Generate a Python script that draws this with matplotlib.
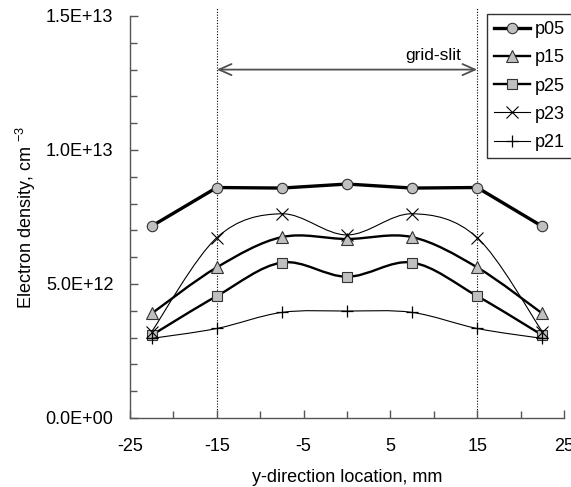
import matplotlib
matplotlib.use("Agg")
import matplotlib.pyplot as plt
from matplotlib.path import Path
from matplotlib.patches import PathPatch
from matplotlib.lines import Line2D
import numpy as np

plt.rcParams['font.family'] = ['Liberation Sans', 'DejaVu Sans']
plt.rcParams['mathtext.fontset'] = 'custom'
plt.rcParams['mathtext.rm'] = 'Liberation Sans'
plt.rcParams['mathtext.it'] = 'Liberation Sans'
plt.rcParams['axes.unicode_minus'] = False

# ---- data ----
x_pos = [-22.5, -15, -7.5, 0, 7.5, 15, 22.5]
p05 = [7.16e12, 8.60e12, 8.58e12, 8.73e12, 8.58e12, 8.60e12, 7.15e12]
p15 = [3.90e12, 5.62e12, 6.75e12, 6.68e12, 6.75e12, 5.62e12, 3.90e12]
p25 = [3.09e12, 4.55e12, 5.80e12, 5.27e12, 5.80e12, 4.55e12, 3.09e12]
p23 = [3.22e12, 6.73e12, 7.62e12, 6.83e12, 7.62e12, 6.73e12, 3.22e12]
p21 = [2.97e12, 3.34e12, 3.94e12, 3.99e12, 3.94e12, 3.34e12, 2.97e12]
series_names = ['p05', 'p15', 'p25', 'p23', 'p21']
x_ticks = [-25, -15, -5, 5, 15, 25]
y_ticks = [0, 5e12, 1e13, 1.5e13]
y_tick_labels = ['0.0E+00', '5.0E+12', '1.0E+13', '1.5E+13']
slit_edges = [-15, 15]
slit_arrow_y = 1.3e13

fig = plt.figure(figsize=(5.71, 4.87), dpi=100)
ax = fig.add_axes([130/571, 1-418/487, 434/571, 402/487])

def smooth_path(xs, ys):
    pts = list(zip(xs, ys))
    n = len(pts)
    verts = [pts[0]]
    codes = [Path.MOVETO]
    for i in range(n-1):
        p0 = pts[i-1] if i > 0 else pts[i]
        p1 = pts[i]
        p2 = pts[i+1]
        p3 = pts[i+2] if i+2 < n else pts[i+1]
        c1 = (p1[0] + (p2[0]-p0[0])/6, p1[1] + (p2[1]-p0[1])/6)
        c2 = (p2[0] - (p3[0]-p1[0])/6, p2[1] - (p3[1]-p1[1])/6)
        verts += [c1, c2, p2]
        codes += [Path.CURVE4]*3
    return Path(verts, codes)

gray = '#c0c0c0'
edge = '#333333'
styles = {
    'p05': dict(marker='o', ms=7.5, lw=2.4, smooth=False, fc=gray, mec=edge, mew=0.8, color='black'),
    'p15': dict(marker='^', ms=8.5, lw=1.7, smooth=True, fc=gray, mec=edge, mew=0.8, color='black'),
    'p25': dict(marker='s', ms=7.5, lw=1.7, smooth=True, fc=gray, mec=edge, mew=0.8, color='black'),
    'p23': dict(marker='x', ms=8, lw=0.8, smooth=True, fc='none', mec='black', mew=0.8, color='black'),
    'p21': dict(marker='+', ms=9, lw=0.8, smooth=True, fc='none', mec='black', mew=0.9, color='black'),
}
data = {'p05': p05, 'p15': p15, 'p25': p25, 'p23': p23, 'p21': p21}

# vertical dotted lines
for xe in slit_edges:
    ax.axvline(xe, ymin=0, ymax=1.02, color='black', lw=0.8, ls=(0, (1, 1.5)), clip_on=False, zorder=1)

handles = []
z = 2
for name in series_names:
    st = styles[name]
    ys = data[name]
    if st['smooth']:
        patch = PathPatch(smooth_path(x_pos, ys), facecolor='none', edgecolor=st['color'],
                          lw=st['lw'], zorder=z, capstyle='round', joinstyle='round')
        ax.add_patch(patch)
    else:
        ax.plot(x_pos, ys, color=st['color'], lw=st['lw'], zorder=z, solid_joinstyle='round')
    ax.plot(x_pos, ys, linestyle='none', marker=st['marker'], ms=st['ms'],
            mfc=st['fc'], mec=st['mec'], mew=st['mew'], zorder=z+0.5)
    z += 1
    handles.append(Line2D([], [], color=st['color'], lw=st['lw'], marker=st['marker'],
                          ms=st['ms'], mfc=st['fc'], mec=st['mec'], mew=st['mew'], label=name))

# grid-slit arrow
ax.annotate('', xy=(slit_edges[1], slit_arrow_y), xytext=(slit_edges[0], slit_arrow_y),
            arrowprops=dict(arrowstyle='<->,head_length=0.45,head_width=0.2', color='#505050',
                            lw=1.3, shrinkA=0, shrinkB=0, mutation_scale=20), zorder=5)
ax.text(13.2, 1.353e13, 'grid-slit', ha='right', va='center', fontsize=12.5)

ax.set_xlim(-25, 25)
ax.set_ylim(0, 1.5e13)
ax.set_xticks(x_ticks)
ax.set_xticks(np.arange(-20, 25, 10), minor=True)
ax.set_yticks(y_ticks)
ax.set_yticklabels(y_tick_labels)
ax.set_yticks(np.arange(1e12, 1.5e13, 1e12), minor=True)

spine_c = '#555555'
for s in ['top', 'right']:
    ax.spines[s].set_visible(False)
for s in ['left', 'bottom']:
    ax.spines[s].set_color(spine_c)
    ax.spines[s].set_linewidth(1.0)
ax.tick_params(which='both', direction='in', color=spine_c, width=1.0)
ax.tick_params(which='major', length=6)
ax.tick_params(which='minor', length=5)
ax.tick_params(axis='y', which='major', labelsize=13, pad=12)
ax.tick_params(axis='x', which='major', labelsize=13, pad=14.5)

ax.set_ylabel('Electron density, cm $^{-3}$', fontsize=13)
ax.yaxis.set_label_coords(-104/434, 0.5)
ax.yaxis.label.set_va('center')
ax.set_xlabel('y-direction location, mm', fontsize=13)
ax.xaxis.set_label_coords(0.5, -59/402)
ax.xaxis.label.set_va('center')

leg = fig.legend(handles=handles, loc='upper left', bbox_to_anchor=(487/571, 1-14/487),
                 bbox_transform=fig.transFigure, frameon=True, fancybox=False, fontsize=13,
                 handlelength=2.0, handletextpad=0.25, labelspacing=0.62, borderpad=0.4,
                 borderaxespad=0)
leg.get_frame().set_edgecolor('black')
leg.get_frame().set_linewidth(1.0)

fig.savefig('out.png', dpi=100)
